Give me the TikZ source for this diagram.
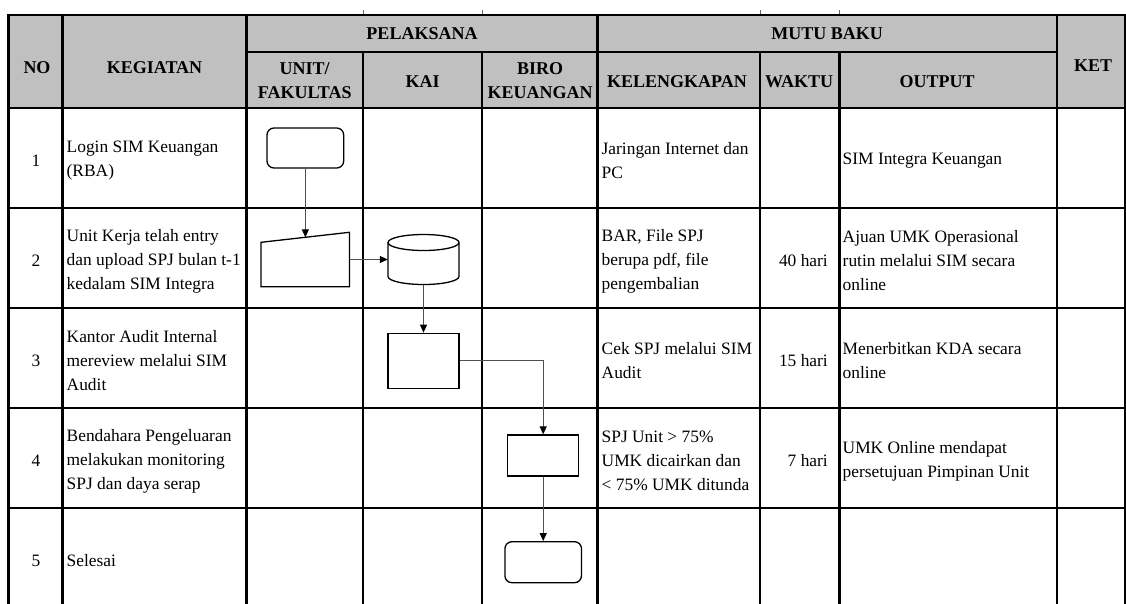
\documentclass[tikz,border=0pt]{standalone}
\usepackage{fontspec}
\setmainfont{Liberation Serif}
\usetikzlibrary{arrows.meta}
\definecolor{hdrgray}{RGB}{192,192,192}
\definecolor{connline}{RGB}{80,80,80}
\newcommand{\hdrfnt}{\fontsize{18}{23.5}\selectfont\bfseries}
\newcommand{\bodyfnt}{\fontsize{17.4}{24}\selectfont}
\begin{document}
\begin{tikzpicture}[x=1pt,y=-1pt,
  gridline/.style={line width=2.6pt,line cap=rect},
  hdr/.style={font=\hdrfnt,align=center,inner sep=0pt},
  body/.style={font=\bodyfnt,align=left,anchor=west,inner sep=0pt},
  wkt/.style={font=\bodyfnt,anchor=east,inner sep=0pt},
  num/.style={font=\bodyfnt,inner sep=0pt},
  shp/.style={draw=black,line width=1.3pt,inner sep=0pt},
  frame/.style={inner sep=0pt},
  conn/.style={draw=connline,line width=1pt,-{Triangle[length=8pt,width=7pt,color=black]}},
  tick/.style={draw=black!60,line width=0.8pt}
]
\useasboundingbox (0,0) rectangle (1126,603);
% header background
\fill[hdrgray] (8.5,15) rectangle (1125,108);
% small ticks above the table
\draw[tick] (363,10) -- (363,15);
\draw[tick] (482,10) -- (482,15);
\draw[tick] (760,10) -- (760,15);
\draw[tick] (839.4,10) -- (839.4,15);
% grid
\draw[gridline] (8.5,15) -- (1125,15);
\draw[gridline] (246.5,52) -- (1057,52);
\foreach \yy in {108,208,308,408,508}{\draw[gridline] (8.5,\yy) -- (1125,\yy);}
\foreach \xx in {8.5,62.5,246.5,597.7,1057,1125}{\draw[gridline] (\xx,15) -- (\xx,603);}
\foreach \xx in {363,482,760,839.4}{\draw[gridline] (\xx,52) -- (\xx,603);}
% header texts
\node[hdr] (hPel) at (422,33.5) {PELAKSANA};
\node[hdr] (hMutu) at (827,33.5) {MUTU BAKU};
\node[hdr] (hNo) at (37,68) {NO};
\node[hdr] (hKeg) at (154.5,68) {KEGIATAN};
\node[hdr] (hKet) at (1093,66) {KET};
\node[hdr] (hUnit) at (304.7,80.5) {UNIT/\\FAKULTAS};
\node[hdr] (hKai) at (422.5,82) {KAI};
\node[hdr] (hBiro) at (540,80.5) {BIRO\\KEUANGAN};
\node[hdr] (hKel) at (677,82) {KELENGKAPAN};
\node[hdr] (hWak) at (799,82) {WAKTU};
\node[hdr] (hOut) at (937,82) {OUTPUT};
% row numbers
\node[num] (n1) at (36,161) {1};
\node[num] (n2) at (36,261) {2};
\node[num] (n3) at (36,361) {3};
\node[num] (n4) at (36,461) {4};
\node[num] (n5) at (36,561) {5};
% kegiatan
\node[body] (k1) at (66.5,161) {Login SIM Keuangan\\(RBA)};
\node[body] (k2) at (66.5,261) {Unit Kerja telah entry\\dan upload SPJ bulan t-1\\kedalam SIM Integra};
\node[body] (k3) at (66.5,361) {Kantor Audit Internal\\mereview melalui SIM\\Audit};
\node[body] (k4) at (66.5,461) {Bendahara Pengeluaran\\melakukan monitoring\\SPJ dan daya serap};
\node[body] (k5) at (66.5,561) {Selesai};
% kelengkapan
\node[body] (l1) at (601.5,161) {Jaringan Internet dan\\PC};
\node[body] (l2) at (601.5,261) {BAR, File SPJ\\berupa pdf, file\\pengembalian};
\node[body] (l3) at (601.5,361) {Cek SPJ melalui SIM\\Audit};
\node[body] (l4) at (601.5,461) {SPJ Unit > 75\%\\UMK dicairkan dan\\< 75\% UMK ditunda};
% waktu
\node[wkt] (w2) at (828,261) {40 hari};
\node[wkt] (w3) at (828,361) {15 hari};
\node[wkt] (w4) at (828,461) {7 hari};
% output
\node[body] (o1) at (842.5,161) {SIM Integra Keuangan};
\node[body] (o2) at (842.5,261) {Ajuan UMK Operasional\\rutin melalui SIM secara\\online};
\node[body] (o3) at (842.5,361) {Menerbitkan KDA secara\\online};
\node[body] (o4) at (842.5,461) {UMK Online mendapat\\persetujuan Pimpinan Unit};
% flow shapes
\node[shp,rounded corners=7pt,minimum width=76.7pt,minimum height=40pt] (start) at (305.35,148) {};
\node[frame,minimum width=88.4pt,minimum height=54.4pt] (inp) at (305.2,259.5) {};
\draw[shp] (261,286.7) -- (349.4,286.7) -- (349.4,232.3) -- (261,242.3) -- cycle;
\coordinate (inTop) at (305.35,237.3);
\node[frame,minimum width=71pt,minimum height=50pt] (db) at (423.5,259.5) {};
\draw[shp] (423.5,242.5) ellipse [x radius=35.5, y radius=8];
\draw[shp] (388,242.5) -- (388,276.5) .. controls (388,280.9) and (403.9,284.5) .. (423.5,284.5) .. controls (443.1,284.5) and (459,280.9) .. (459,276.5) -- (459,242.5);
\node[shp,minimum width=71pt,minimum height=55pt] (p3) at (423.5,360.8) {};
\node[shp,minimum width=70.8pt,minimum height=41pt] (p4) at (543.2,455.5) {};
\node[shp,rounded corners=7pt,minimum width=76.6pt,minimum height=41pt] (fin) at (543.2,562.2) {};
% connectors
\draw[conn] (start.south) -- (inTop);
\draw[conn] (inp.east) -- (db.west);
\draw[conn] (db.south) -- (p3.north);
\draw[conn] (p3.east) -| (p4.north);
\draw[conn] (p4.south) -- (fin.north);
\end{tikzpicture}
\end{document}
